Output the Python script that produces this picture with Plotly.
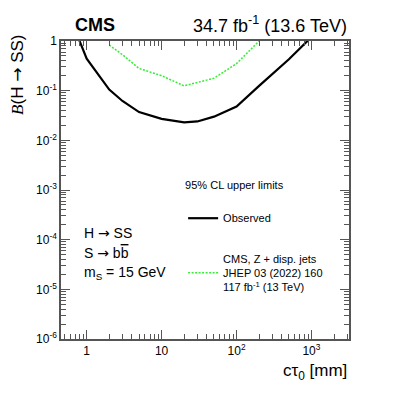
import numpy as np
import plotly.graph_objects as go

# Observed limit, this analysis (34.7 fb-1, 13.6 TeV)
ctau_obs = [0.75, 1, 2, 3, 5, 10, 20, 30, 50, 100, 200, 500, 1000]
br_obs = [1.3, 0.44, 0.105, 0.062, 0.037, 0.027, 0.023, 0.024, 0.030, 0.048, 0.125, 0.43, 1.2]

# CMS Z + displaced jets, JHEP 03 (2022) 160
ctau_zdj = [2, 3, 5, 10, 20, 50, 100, 200]
br_zdj = [0.83, 0.53, 0.28, 0.2, 0.125, 0.178, 0.35, 1.0]

x_major = [1, 10, 100, 1000]
x_major_text = ["1", "10", "10<sup>2</sup>", "10<sup>3</sup>"]
y_major = [1e-6, 1e-5, 1e-4, 1e-3, 1e-2, 1e-1, 1]
y_major_text = ["10<sup>-6</sup>", "10<sup>-5</sup>", "10<sup>-4</sup>", "10<sup>-3</sup>",
                "10<sup>-2</sup>", "10<sup>-1</sup>", "1"]

x_minor = [m * 10.0 ** e for e in range(-1, 4) for m in range(1, 10)]
y_minor = [m * 10.0 ** e for e in range(-6, 1) for m in range(1, 10)]

FONT = "Liberation Sans, Arial, sans-serif"
FRAME = "#555555"
ARROW = "<span style='font-family:DejaVu Sans'>→</span>"

fig = go.Figure()
fig.add_trace(go.Scatter(x=ctau_obs, y=br_obs, mode="lines", name="Observed",
                         legendgroup="a",
                         line=dict(color="black", width=2.2)))
fig.add_trace(go.Scatter(x=ctau_zdj, y=br_zdj, mode="lines",
                         name="CMS, Z + disp. jets<br>JHEP 03 (2022) 160<br>117 fb<sup>-1</sup> (13 TeV)",
                         legendgroup="b",
                         line=dict(color="#33ee33", width=1.5, dash="2px,1.5px")))

axis_common = dict(showline=True, linecolor=FRAME, linewidth=1.5, mirror="ticks",
                   ticks="inside", tickcolor=FRAME, tickwidth=1, showgrid=False,
                   zeroline=False, tickfont=dict(family=FONT, size=12, color="black"))

fig.update_xaxes(type="log", range=[np.log10(0.454), np.log10(3170)],
                 tickmode="array", tickvals=x_major, ticktext=x_major_text, ticklen=9,
                 minor=dict(tickmode="array", tickvals=x_minor, ticks="inside",
                            ticklen=5, tickcolor=FRAME, tickwidth=1),
                 **axis_common)
fig.update_yaxes(type="log", range=[-6, 0],
                 tickmode="array", tickvals=y_major, ticktext=y_major_text, ticklen=9,
                 minor=dict(tickmode="array", tickvals=y_minor, ticks="inside",
                            ticklen=5, tickcolor=FRAME, tickwidth=1),
                 **axis_common)

notes = [
    dict(text="<b>CMS</b>", x=0.042, y=1.054, xanchor="left", size=18),
    dict(text="34.7 fb<sup>-1</sup> (13.6 TeV)", x=1.0, y=1.054, xanchor="right", size=18),
    dict(text="H " + ARROW + " SS", x=0.073, y=0.356, xanchor="left", size=14),
    dict(text="S " + ARROW + " b<span style='text-decoration:overline'>b</span>", x=0.073, y=0.290,
         xanchor="left", size=14),
    dict(text="m<sub>S</sub> = 15 GeV", x=0.073, y=0.221, xanchor="left", size=14),
    dict(text="cτ<sub>0</sub> [mm]", x=1.0, y=-0.110, xanchor="right", size=17),
]
for n in notes:
    fig.add_annotation(text=n["text"], xref="paper", yref="paper", x=n["x"], y=n["y"],
                       xanchor=n["xanchor"], yanchor="middle", showarrow=False,
                       font=dict(family=FONT, size=n["size"], color="black"))

fig.add_annotation(text="<i><span style='font-family:Liberation Serif'>B</span></i>(H " + ARROW + " SS)",
                   xref="paper", yref="paper", x=-0.153, y=0.886, textangle=-90,
                   xanchor="center", yanchor="middle", showarrow=False,
                   font=dict(family=FONT, size=17, color="black"))

# page body adds an 8px offset, so the figure is shrunk and shifted by that amount
fig.update_layout(
    width=399, height=388,
    margin=dict(l=53, r=58, t=33, b=57),
    plot_bgcolor="white", paper_bgcolor="white",
    showlegend=True,
    legend=dict(x=0.424, y=0.55, xanchor="left", yanchor="top",
                title=dict(text="95% CL upper limits<br> ", font=dict(family=FONT, size=11)),
                font=dict(family=FONT, size=11, color="black"),
                tracegroupgap=22, bgcolor="rgba(0,0,0,0)"),
)

fig.write_html("out.html")
